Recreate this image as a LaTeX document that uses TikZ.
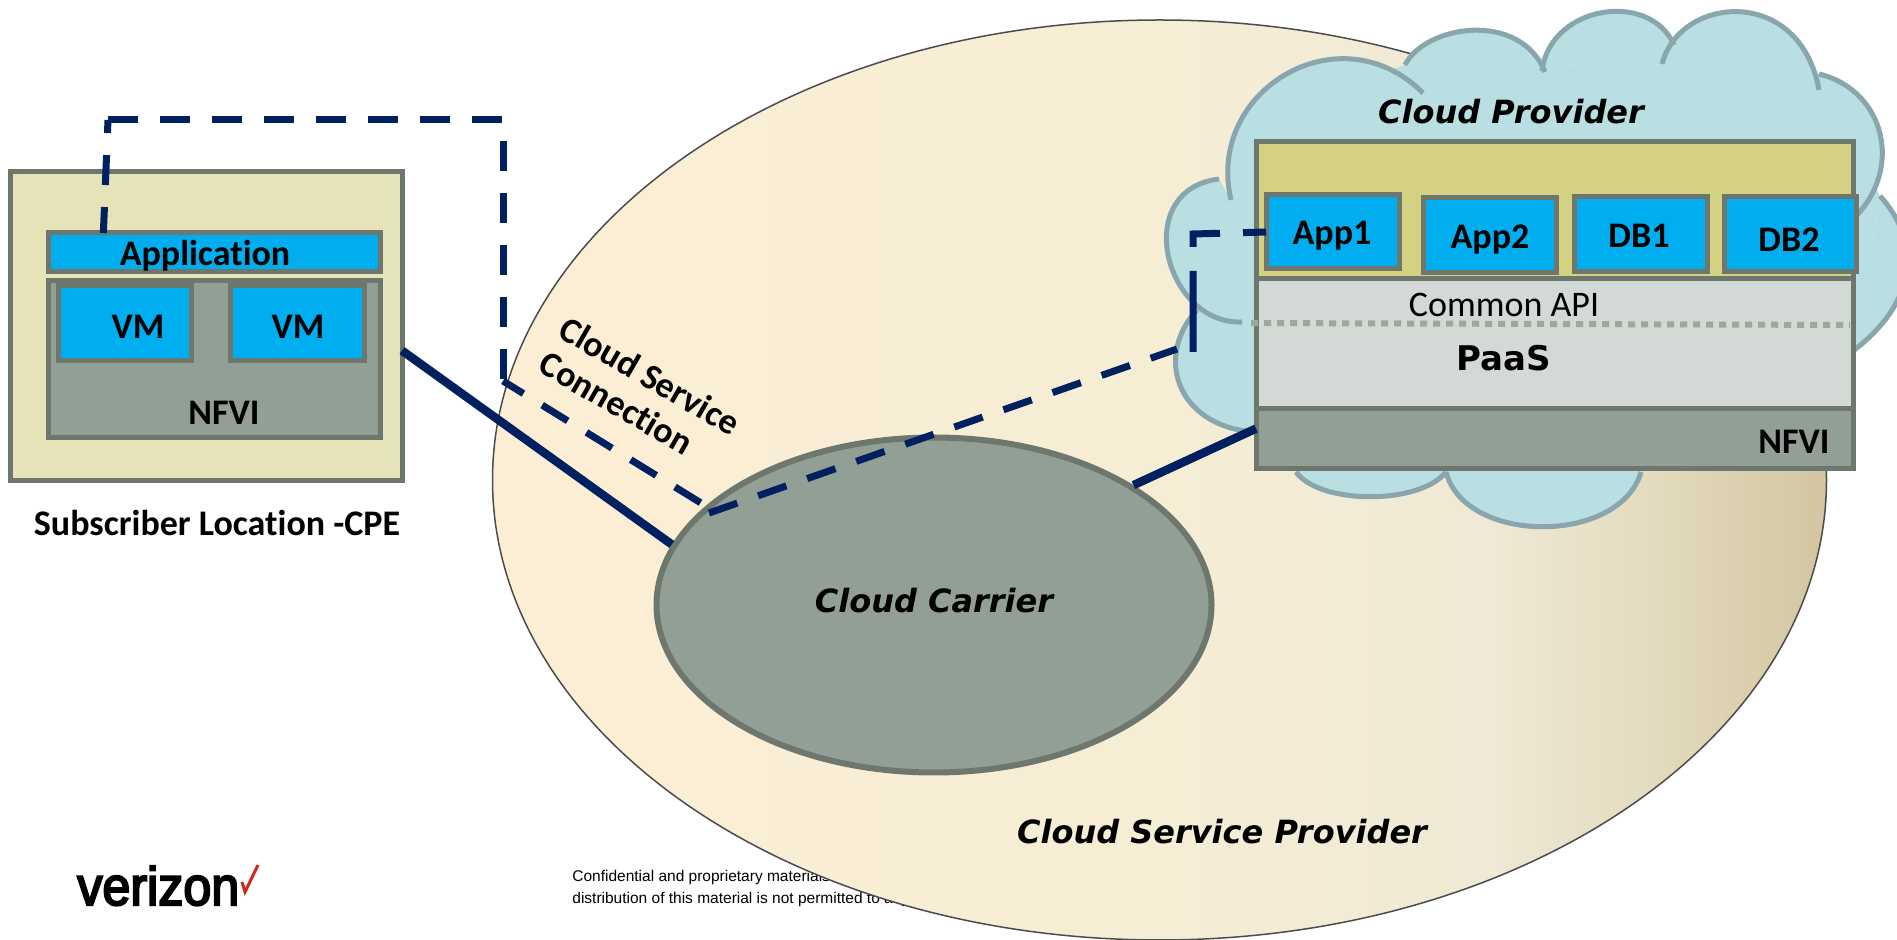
\documentclass[tikz,border=0pt]{standalone}
\usepackage{fontspec}
\setmainfont[Ligatures=NoCommon]{Carlito}
\newfontfamily\dejavu{DejaVu Sans}
\newfontfamily\arialfont{Liberation Sans}
\newfontfamily\logofont[FakeBold=4]{Liberation Sans}
\usetikzlibrary{shapes.geometric,calc}
\definecolor{cspA}{HTML}{FCEED5}
\definecolor{cspB}{HTML}{F6EDD5}
\definecolor{cspC}{HTML}{EFE9D5}
\definecolor{cspD}{HTML}{E3DBBE}
\definecolor{cspE}{HTML}{D3C5A0}
\definecolor{edgegray}{HTML}{6E776E}
\definecolor{nfvigray}{HTML}{929F95}
\definecolor{paasgray}{HTML}{D3D9D5}
\definecolor{cpeyellow}{HTML}{E6E3B8}
\definecolor{topyellow}{HTML}{D4D182}
\definecolor{appblue}{HTML}{00AEEF}
\definecolor{navy}{HTML}{002060}
\definecolor{cloudfill}{HTML}{B9DFE2}
\definecolor{cloudedge}{HTML}{88A6AB}
\definecolor{dotgray}{HTML}{9AA89E}
\definecolor{checkred}{HTML}{CD2A1E}
\pgfdeclarehorizontalshading{cspfill}{100bp}{color(0bp)=(cspA); color(25bp)=(cspA); color(50bp)=(cspB); color(62.5bp)=(cspC); color(68.5bp)=(cspD); color(75bp)=(cspE); color(100bp)=(cspE)}
\tikzset{
  boxed/.style={draw=edgegray,line width=2.5pt,rectangle,inner sep=0pt,outer sep=0pt},
  appbox/.style={boxed,fill=appblue},
  lbl/.style={font=\fontsize{18}{20}\selectfont\bfseries,inner sep=0pt},
  bigitalic/.style={font=\dejavu\fontsize{16}{19}\selectfont\bfseries\itshape,inner sep=0pt},
  solidlink/.style={draw=navy,line width=4.25pt},
  dashlink/.style={draw=navy,line width=3.5pt,dash pattern=on 15pt off 11pt}
}
% cloud lobes: start, two controls, end
\def\cloudlobes{1231/200/1205/90/1340/10/1423/93,
  1405/65/1425/25/1520/10/1545/72,
  1542/71/1550/5/1650/-10/1674/45,
  1662/64/1680/-5/1800/-15/1819/90,
  1819/74/1885/90/1905/170/1852/220,
  1880/196/1920/240/1920/300/1853/351,
  1641/472/1620/545/1465/545/1446/472,
  1446/472/1420/505/1320/505/1296/472,
  1253/432/1175/425/1155/355/1197/310,
  1242/322/1165/325/1130/190/1219/179}
\begin{document}
\begin{tikzpicture}[x=0.5pt,y=-0.5pt]
\useasboundingbox (0,0) rectangle (1897,940);
\fill[white] (0,0) rectangle (1897,940);
% footer goes under the big ellipse
\node[anchor=north west,align=left,inner sep=0pt,font=\arialfont\fontsize{7.75}{11}\selectfont] (conf) at (572,870)
  {Confidential and proprietary materials\\distribution of this material is not permitted to any};
\node[ellipse,draw=black!70,line width=0.75pt,shading=cspfill,minimum width=667pt,minimum height=460pt,inner sep=0pt] (csp) at (1159.5,480) {};
% cpe side
\node[boxed,fill=cpeyellow,minimum width=196pt,minimum height=154.5pt] (cpe) at (206,326.5) {};
\node[appbox,minimum width=166pt,minimum height=19.5pt] (appbar) at (214,252.5) {};
\node[boxed,fill=nfvigray,minimum width=166pt,minimum height=78.5pt] (cpenfvi) at (214,359.5) {};
\node[appbox,minimum width=66.5pt,minimum height=37.5pt] (vma) at (124.5,323.5) {};
\node[appbox,minimum width=67pt,minimum height=37.5pt] (vmb) at (297,323.5) {};
\node[lbl] (apptxt) at (205,256) {Application};
\node[lbl] (vmatxt) at (138,327) {VM};
\node[lbl] (vmbtxt) at (298,327) {VM};
\node[lbl] (cpenfvitxt) at (224,413) {NFVI};
\node[lbl] (cpetxt) at (217,523) {Subscriber Location -CPE};
% cloud
\fill[cloudfill] (1231,200)--(1300,100)--(1405,65)--(1542,71)--(1674,45)--(1819,74)--(1880,196)--(1853,351)--(1641,472)--(1296,472)--(1253,432)--(1197,310)--(1219,179)--cycle;
\foreach \ax/\ay/\bx/\by/\cx/\cy/\dx/\dy in \cloudlobes
  \fill[cloudfill] (\ax,\ay) .. controls (\bx,\by) and (\cx,\cy) .. (\dx,\dy) -- cycle;
\foreach \ax/\ay/\bx/\by/\cx/\cy/\dx/\dy in \cloudlobes
  \draw[cloudedge,line width=2.5pt] (\ax,\ay) .. controls (\bx,\by) and (\cx,\cy) .. (\dx,\dy);
% stack
\node[boxed,fill=topyellow,minimum width=298.5pt,minimum height=68.5pt] (top) at (1554.5,210.5) {};
\node[boxed,fill=paasgray,minimum width=298.5pt,minimum height=65pt] (paas) at (1554.5,344) {};
\node[boxed,fill=nfvigray,minimum width=298.5pt,minimum height=30pt] (nfvi) at (1554.5,439) {};
\node[appbox,minimum width=66.5pt,minimum height=37pt] (appa) at (1332.5,232) {};
\node[appbox,minimum width=66.5pt,minimum height=37.5pt] (appb) at (1490,235.5) {};
\node[appbox,minimum width=66.5pt,minimum height=37.5pt] (dba) at (1640.5,234.5) {};
\node[appbox,minimum width=66pt,minimum height=37.5pt] (dbb) at (1790,234.5) {};
\coordinate (dotl) at (1251,323);
\coordinate (dotr) at (1850,325);
\draw[dotgray,line width=3pt,dash pattern=on 3.5pt off 3pt] (dotl)--(dotr);
\node[lbl] (appatxt) at (1332,236) {App1};
\node[lbl] (appbtxt) at (1490,240) {App2};
\node[lbl] (dbatxt) at (1639,236) {DB1};
\node[lbl] (dbbtxt) at (1789,240) {DB2};
\node[inner sep=0pt,font=\fontsize{18}{20}\selectfont] (apitxt) at (1504,305) {Common API};
\node[inner sep=0pt,font=\dejavu\fontsize{17}{20}\selectfont\bfseries] (paastxt) at (1504,358) {PaaS};
\node[lbl] (nfvitxt) at (1794,442) {NFVI};
\node[bigitalic] (cloudtxt) at (1511,112) {Cloud Provider};
% carrier
\node[ellipse,draw=edgegray,line width=3pt,fill=nfvigray,minimum width=277.5pt,minimum height=167.5pt,inner sep=0pt] (carrier) at (934,605) {};
\node[bigitalic] (carriertxt) at (934,601) {Cloud Carrier};
\node[bigitalic] (csptxt) at (1222,832) {Cloud Service Provider};
\node[lbl,rotate=-30,align=left] (linktxt) at (640,393) {Cloud Service\\Connection};
% links
\draw[solidlink] (cpe.-7.4)--(carrier.167.7);
\draw[solidlink] (nfvi.178.7)--(carrier.31);
\coordinate (turna) at (108,120);
\coordinate (turnb) at (503,120);
\coordinate (turnc) at (503,381);
\coordinate (turnd) at (701,503);
\coordinate (turne) at (709,513);
\coordinate (turnf) at (1177,349);
\coordinate (turng) at (1193,352);
\coordinate (turnh) at (1193,234);
\draw[dashlink,dash phase=2pt] (appbar.170)--(turna);
\draw[dashlink] (turna)--(turnb)--(turnc);
\draw[dashlink,dash phase=3pt] (turnc)--(turnd);
\draw[dashlink] (turne)--(turnf);
\draw[dashlink,dash pattern=on 40.5pt off 12pt on 20pt off 11.5pt on 13pt] (turng)--(turnh)--(appa.west);
% logo
\node[anchor=base west,inner sep=0pt,xscale=0.93,font=\logofont\fontsize{27}{27}\selectfont] (logo) at (77,905) {verizon};
\coordinate (checka) at (242,882);
\coordinate (checkb) at (245,892);
\coordinate (checkc) at (258,865);
\draw[checkred,line width=1.5pt] (checka)--(checkb)--(checkc);
\end{tikzpicture}
\end{document}
